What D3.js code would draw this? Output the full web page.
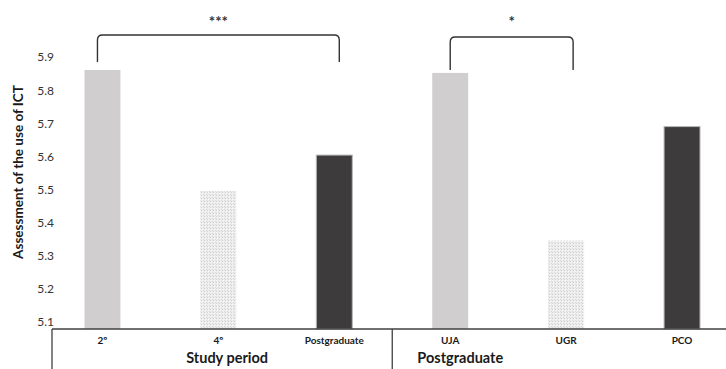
<!DOCTYPE html>
<html>
<head>
<meta charset="utf-8">
<script src="https://cdn.jsdelivr.net/npm/d3@7"></script>
<style>
  html, body { margin: 0; padding: 0; background: #fff; }
  svg { display: block; }
  text { font-family: "Lato", "Open Sans", sans-serif; }
</style>
</head>
<body>
<svg id="chart" width="726" height="369"></svg>
<script>
// Mean assessment of ICT use by study period and by postgraduate institution
const categories = ["2º", "4º", "Postgraduate", "UJA", "UGR", "PCO"];
const values = [5.86, 5.495, 5.603, 5.851, 5.345, 5.689];
const fillKinds = ["light", "dotted", "dark", "light", "dotted", "dark"];
const groups = [
  { name: "Study period", first: 0, last: 2 },
  { name: "Postgraduate", first: 3, last: 5 }
];
const yTicks = [5.1, 5.2, 5.3, 5.4, 5.5, 5.6, 5.7, 5.8, 5.9];
const comparisons = [
  { from: 0, to: 2, label: "***" },
  { from: 3, to: 4, label: "*" }
];

const svg = d3.select("#chart");
const W = 726, H = 369;

// Scales
const x = d3.scaleBand()
  .domain(categories)
  .range([44.5, 740])
  .paddingInner(0.69)
  .paddingOuter(0.345);

const y = d3.scaleLinear()
  .domain([5.078, 5.9])
  .range([329, 56.7]);

const baseY = y(y.domain()[0]);
const plotLeft = 52;
const cx = d => x(d) + x.bandwidth() / 2;

// Dotted fill pattern (fine grid of grey dots)
const defs = svg.append("defs");
const pat = defs.append("pattern")
  .attr("id", "dots")
  .attr("patternUnits", "userSpaceOnUse")
  .attr("width", 3).attr("height", 3);
pat.append("rect").attr("width", 3).attr("height", 3).attr("fill", "#ededed");
pat.append("rect").attr("x", 0).attr("y", 0).attr("width", 1).attr("height", 1).attr("fill", "#cfcfcf");
pat.append("rect").attr("x", 1).attr("y", 1).attr("width", 1).attr("height", 1).attr("fill", "#f7f7f7");
pat.append("rect").attr("x", 2).attr("y", 2).attr("width", 1).attr("height", 1).attr("fill", "#d9d9d9");

const fills = { light: "#d0cece", dotted: "url(#dots)", dark: "#3d3b3b" };

// Y axis labels (no axis line)
const yAxis = d3.axisLeft(y).tickValues(yTicks).tickSize(0).tickPadding(0)
  .tickFormat(d3.format(".1f"));
const gy = svg.append("g").attr("transform", `translate(54,0)`).call(yAxis);
gy.select(".domain").remove();
gy.selectAll("text")
  .attr("fill", "#333")
  .style("font-family", "Lato, sans-serif")
  .style("font-size", "12px")
  .attr("dy", "0.35em");

// Bars
svg.append("g").selectAll("rect")
  .data(categories)
  .join("rect")
  .attr("x", d => x(d))
  .attr("width", x.bandwidth())
  .attr("y", (d, i) => y(values[i]))
  .attr("height", (d, i) => baseY - y(values[i]))
  .attr("fill", (d, i) => fills[fillKinds[i]])
  .attr("stroke", (d, i) => fillKinds[i] === "dark" ? "#b5b5b5" : "none")
  .attr("stroke-width", 1);

// Category axis with a two-level label table
const axisColor = "#404040";
svg.append("line")
  .attr("x1", plotLeft).attr("x2", W)
  .attr("y1", baseY).attr("y2", baseY)
  .attr("stroke", axisColor).attr("stroke-width", 1.3);
svg.append("line")
  .attr("x1", plotLeft).attr("x2", plotLeft)
  .attr("y1", baseY).attr("y2", H)
  .attr("stroke", axisColor).attr("stroke-width", 1.3);

const step = x.step();
const gap = (step - x.bandwidth()) / 2;
groups.forEach((g, gi) => {
  if (gi > 0) {
    const sepX = x(categories[g.first]) - gap;
    svg.append("line")
      .attr("x1", sepX).attr("x2", sepX)
      .attr("y1", baseY).attr("y2", H)
      .attr("stroke", axisColor).attr("stroke-width", 1.3);
  }
});

svg.append("g").selectAll("text")
  .data(categories)
  .join("text")
  .attr("x", d => cx(d))
  .attr("y", 344)
  .attr("text-anchor", "middle")
  .attr("font-size", "10px")
  .attr("font-weight", "bold")
  .attr("fill", "#1a1a1a")
  .text(d => d);

// Group titles
const groupCenters = [
  (plotLeft + x(categories[2]) + x.bandwidth() + gap) / 2 + 5,
  x(categories[3]) - gap + 68
];
svg.append("g").selectAll("text")
  .data(groups)
  .join("text")
  .attr("x", (d, i) => groupCenters[i])
  .attr("y", 363)
  .attr("text-anchor", "middle")
  .attr("font-size", "14.5px")
  .attr("font-weight", "bold")
  .attr("fill", "#1a1a1a")
  .text(d => d.name);

// Y axis title
svg.append("text")
  .attr("transform", `translate(23,172) rotate(-90)`)
  .attr("text-anchor", "middle")
  .attr("font-size", "13.5px")
  .attr("font-weight", "bold")
  .attr("fill", "#1a1a1a")
  .text("Assessment of the use of ICT");

// Significance brackets: end offsets from the bar centres, top and bottom y
const bracketStyle = [
  { dx1: -5, dx2: 5, top: 35, bottom: 62 },
  { dx1: 0, dx2: 7, top: 37, bottom: 70 }
];
const r = 5;
comparisons.forEach((c, i) => {
  const s = bracketStyle[i];
  const x1 = cx(categories[c.from]) + s.dx1;
  const x2 = cx(categories[c.to]) + s.dx2;
  const t = s.top, b = s.bottom;
  const path = d3.path();
  path.moveTo(x1, b);
  path.lineTo(x1, t + r);
  path.quadraticCurveTo(x1, t, x1 + r, t);
  path.lineTo(x2 - r, t);
  path.quadraticCurveTo(x2, t, x2, t + r);
  path.lineTo(x2, b);
  svg.append("path")
    .attr("d", path.toString())
    .attr("fill", "none")
    .attr("stroke", "#333")
    .attr("stroke-width", 1.4);
  svg.append("text")
    .attr("x", (x1 + x2) / 2)
    .attr("y", 27)
    .attr("text-anchor", "middle")
    .attr("font-size", "15px")
    .attr("font-weight", "bold")
    .attr("fill", "#333")
    .text(c.label);
});
</script>
</body>
</html>
